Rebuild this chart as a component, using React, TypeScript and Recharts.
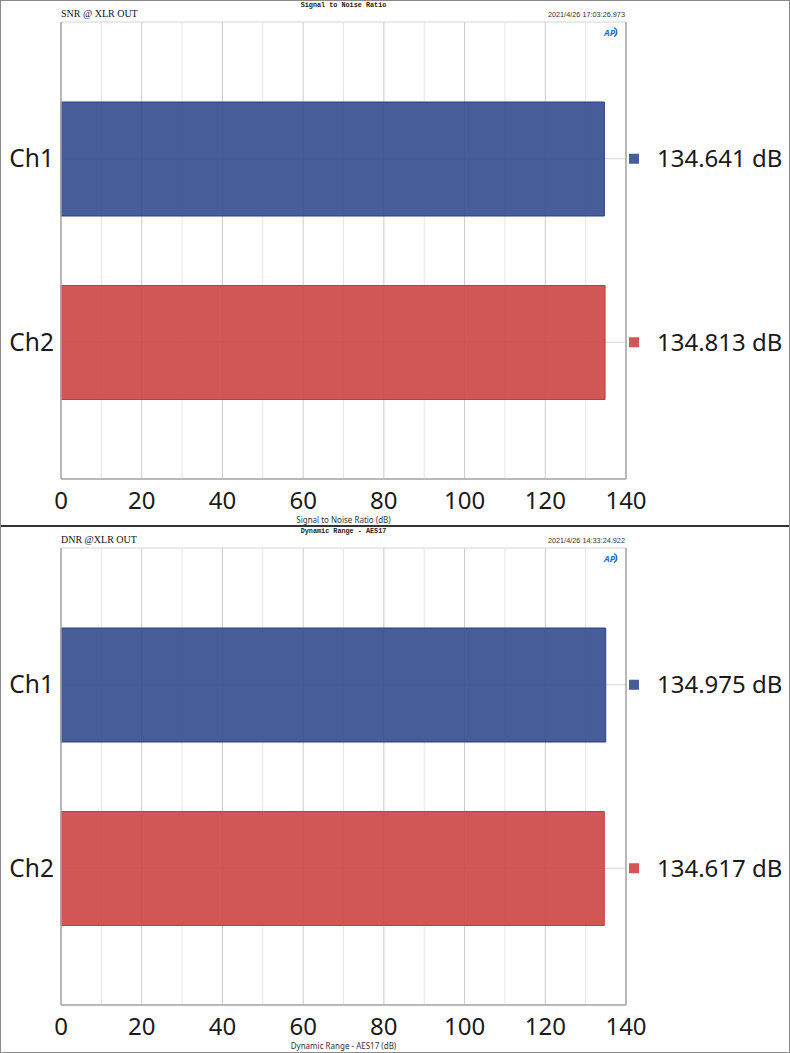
import { BarChart, Bar, Cell, XAxis, YAxis, CartesianGrid, Label } from 'recharts';

const channels = ['Ch1', 'Ch2'];
const snrValues = [134.641, 134.813];
const dnrValues = [134.975, 134.617];
const majorTicks = [0, 20, 40, 60, 80, 100, 120, 140];
const gridTicks = [0, 10, 20, 30, 40, 50, 60, 70, 80, 90, 100, 110, 120, 130, 140];
const barColors = ['#334b8f', '#cb4543'];
const barStrokes = ['#2a3f80', '#bf3d3b'];

const FONT = '"Noto Sans", "Open Sans", sans-serif';

interface PanelProps {
  title: string;
  subtitle: string;
  stamp: string;
  axisTitle: string;
  values: number[];
  top: number;
}

const Logo = () => (
  <svg width={16} height={12} style={{ position: 'absolute', left: 603, top: 26 }}>
    <path d="M11 1.5 A5 5 0 0 1 11 10.5" fill="none" stroke="#1d6fc4" strokeWidth={1.3} />
    <text x={1} y={9.5} fontSize={9} fontWeight="bold" fontStyle="italic" fill="#1d6fc4" fontFamily={FONT}>
      AP
    </text>
  </svg>
);

// major (every 20) lines darker, minor (every 10) lighter
const gridLine = (p: any) => {
  const isMajor = majorTicks.includes(gridTicks[p.index]);
  return (
    <line
      key={p.key}
      x1={p.x1}
      y1={p.y1}
      x2={p.x2}
      y2={p.y2}
      stroke={isMajor ? '#cccccc' : '#e6e6e6'}
      strokeWidth={1}
    />
  );
};

const Panel = ({ title, subtitle, stamp, axisTitle, values, top }: PanelProps) => {
  const data = channels.map((name, i) => ({ name, value: values[i] }));

  const renderValueTick = (props: any) => {
    const { x, y, index } = props;
    const i = typeof index === 'number' ? index : channels.indexOf(props.payload.value);
    return (
      <g>
        <rect x={x + 3} y={y - 5} width={10} height={10} fill={barColors[i]} fillOpacity={0.9} />
        <text x={x + 31} y={y} dy="0.35em" fontSize={24} fill="#1a1a1a" fontFamily={FONT}>
          {`${values[i].toFixed(3)} dB`}
        </text>
      </g>
    );
  };

  return (
    <div style={{ position: 'absolute', left: 0, top, width: 790, height: 526 }}>
      <div
        style={{
          position: 'absolute',
          left: 0,
          width: 687,
          top: 1,
          textAlign: 'center',
          fontFamily: '"Liberation Mono", monospace',
          fontWeight: 'bold',
          fontSize: 6.8,
          color: '#222',
          lineHeight: '8px',
        }}
      >
        {title}
      </div>
      <div
        style={{
          position: 'absolute',
          left: 61,
          top: 8,
          fontFamily: '"Liberation Serif", serif',
          fontSize: 10,
          color: '#111',
          lineHeight: '12px',
        }}
      >
        {subtitle}
      </div>
      <div
        style={{
          position: 'absolute',
          right: 790 - 625,
          top: 10,
          fontFamily: '"Liberation Sans", sans-serif',
          fontSize: 7.3,
          color: '#333',
          lineHeight: '10px',
        }}
      >
        {stamp}
      </div>
      <BarChart
        width={790}
        height={526}
        data={data}
        layout="vertical"
        margin={{ top: 22, right: 0, bottom: 0, left: 0 }}
      >
        <XAxis
          xAxisId="top"
          type="number"
          orientation="top"
          domain={[0, 140]}
          height={0}
          tick={false}
          tickLine={false}
          axisLine={{ stroke: '#a8a8a8', strokeWidth: 1.5 }}
        />
        <XAxis
          xAxisId="main"
          type="number"
          domain={[0, 140]}
          ticks={gridTicks}
          tickFormatter={(v: number) => (majorTicks.includes(v) ? String(v) : '')}
          height={47}
          tickLine={false}
          tickMargin={7}
          axisLine={{ stroke: '#a8a8a8', strokeWidth: 1.5 }}
          tick={{ fontSize: 24, fill: '#1a1a1a', fontFamily: FONT }}
        >
          <Label
            value={axisTitle}
            position="insideBottom"
            offset={3}
            style={{ fontSize: 8, fill: '#333', fontFamily: FONT }}
          />
        </XAxis>
        <YAxis
          yAxisId="left"
          type="category"
          dataKey="name"
          width={61}
          padding={{ top: 45, bottom: 45 }}
          tickLine={false}
          tickMargin={1}
          axisLine={{ stroke: '#a8a8a8', strokeWidth: 1.5 }}
          tick={{ fontSize: 24.5, fill: '#1a1a1a', fontFamily: FONT }}
        />
        <YAxis
          yAxisId="right"
          type="category"
          dataKey="name"
          orientation="right"
          width={164}
          padding={{ top: 45, bottom: 45 }}
          tickLine={false}
          tickSize={0}
          tickMargin={0}
          axisLine={{ stroke: '#a8a8a8', strokeWidth: 1.5 }}
          tick={renderValueTick}
        />
        <CartesianGrid xAxisId="main" yAxisId="left" stroke="#d4d4d4" vertical={gridLine} />
        <Bar
          xAxisId="main"
          yAxisId="left"
          dataKey="value"
          barSize={114}
          fillOpacity={0.9}
          strokeWidth={1}
          isAnimationActive={false}
        >
          {data.map((d, i) => (
            <Cell key={d.name} fill={barColors[i]} stroke={barStrokes[i]} />
          ))}
        </Bar>
      </BarChart>
      <Logo />
    </div>
  );
};

export default function App() {
  return (
    <div style={{ position: 'relative', width: 790, height: 1053, background: '#fff', overflow: 'hidden' }}>
      <style>{`body{margin:0}`}</style>
      <Panel
        title="Signal to Noise Ratio"
        subtitle="SNR @ XLR OUT"
        stamp="2021/4/26 17:03:26.973"
        axisTitle="Signal to Noise Ratio (dB)"
        values={snrValues}
        top={0}
      />
      <Panel
        title="Dynamic Range - AES17"
        subtitle="DNR @XLR OUT"
        stamp="2021/4/26 14:33:24.922"
        axisTitle="Dynamic Range - AES17 (dB)"
        values={dnrValues}
        top={526}
      />
      <div style={{ position: 'absolute', left: 0, top: 525, width: 790, height: 2, background: '#333' }} />
      <div
        style={{
          position: 'absolute',
          left: 0,
          top: 0,
          width: 790,
          height: 1053,
          boxSizing: 'border-box',
          border: '1px solid #8a8a8a',
          pointerEvents: 'none',
        }}
      />
    </div>
  );
}
